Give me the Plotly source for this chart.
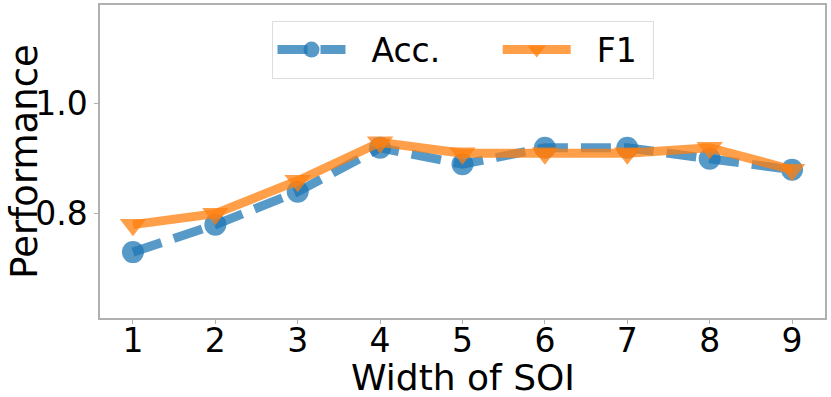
"""Performance vs. width of SOI line chart."""

import plotly.graph_objects as go

widths = [1, 2, 3, 4, 5, 6, 7, 8, 9]
acc = [0.73, 0.78, 0.84, 0.92, 0.89, 0.92, 0.92, 0.90, 0.88]
f1 = [0.78, 0.80, 0.86, 0.93, 0.91, 0.91, 0.91, 0.92, 0.88]
y_ticks = [0.8, 1.0]

_BLUE = "rgba(31,119,180,0.75)"
_ORANGE = "rgba(255,127,14,0.75)"
_FONT = "DejaVu Sans"
_NB = "\u00a0"

fig = go.Figure()
fig.add_trace(
    go.Scatter(
        x=widths,
        y=acc,
        name=_NB * 2 + "Acc." + _NB * 5,
        mode="lines+markers",
        line=dict(color=_BLUE, width=9, dash="30px,13px"),
        marker=dict(symbol="circle", size=22, color=_BLUE),
    )
)
fig.add_trace(
    go.Scatter(
        x=widths,
        y=f1,
        name=_NB * 2 + "F1" + _NB,
        mode="lines+markers",
        line=dict(color=_ORANGE, width=9),
        marker=dict(symbol="triangle-down", size=23, color=_ORANGE),
    )
)

axis_common = dict(
    showline=True,
    linecolor="#b0b0b0",
    linewidth=1.5,
    mirror=True,
    showgrid=False,
    zeroline=False,
    ticks="outside",
    ticklen=4,
    tickcolor="#b0b0b0",
    tickfont=dict(family=_FONT, size=33, color="black"),
    automargin=False,
)

fig.update_layout(
    width=831,
    height=397,
    margin=dict(l=100, r=6, t=5, b=79),
    plot_bgcolor="white",
    paper_bgcolor="white",
    xaxis=dict(**axis_common, range=[0.6, 9.4], tickvals=widths, ticklabelstandoff=-11),
    yaxis=dict(
        **axis_common,
        range=[0.61, 1.18],
        tickvals=y_ticks,
        ticktext=[f"{v:.1f}" for v in y_ticks],
    ),
    legend=dict(
        orientation="h",
        x=0.5,
        xanchor="center",
        y=0.95,
        yanchor="top",
        bordercolor="#dddddd",
        borderwidth=1,
        font=dict(family=_FONT, size=33, color="black"),
        itemwidth=68,
        bgcolor="white",
    ),
    showlegend=True,
)

# axis titles as annotations so they sit where the reference puts them
fig.add_annotation(
    text="Width of SOI",
    xref="paper",
    yref="paper",
    x=0.5,
    y=-0.2524,
    yshift=-3,
    xanchor="center",
    yanchor="bottom",
    showarrow=False,
    font=dict(family=_FONT, size=36, color="black"),
)
fig.add_annotation(
    text="Performance",
    xref="paper",
    yref="paper",
    x=-0.137,
    y=0.5,
    xanchor="left",
    yanchor="middle",
    textangle=-90,
    showarrow=False,
    font=dict(family=_FONT, size=37, color="black"),
)

# drop the browser's default body margin so the figure sits at the page origin
fig.write_html(
    "out.html",
    config={"displayModeBar": False},
    post_script="document.body.style.margin='0';",
)
